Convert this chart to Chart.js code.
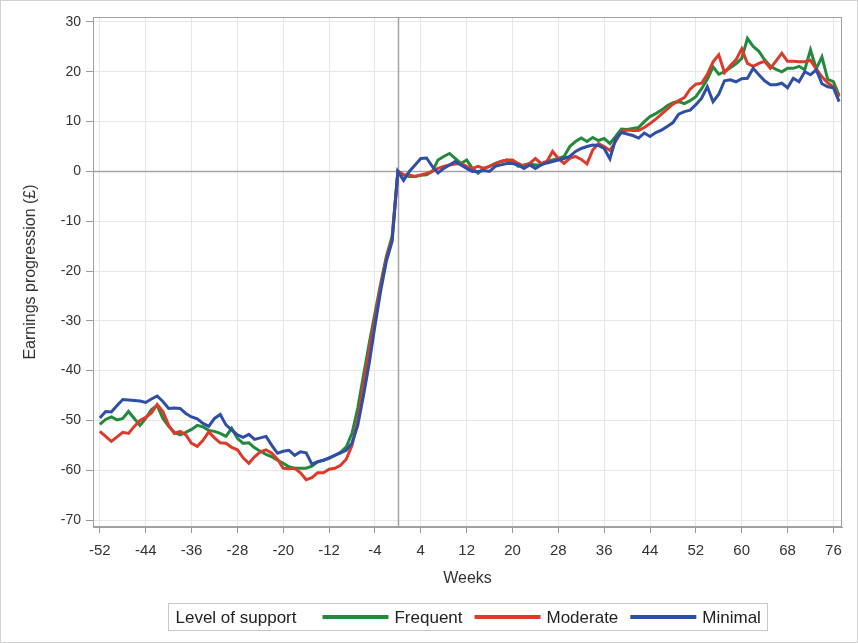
<!DOCTYPE html>
<html>
<head>
<meta charset="utf-8">
<title>Earnings progression by level of support</title>
<script src="https://cdn.jsdelivr.net/npm/chart.js@4.4.1/dist/chart.umd.min.js"></script>
<style>
  html, body { margin: 0; padding: 0; background: #fff; }
  canvas { display: block; }
</style>
</head>
<body>
<canvas id="earnings-chart" width="858" height="643"></canvas>
<script>
// weeks relative to start of support
var weeks = [
  -52,-51,-50,-49,-48,-47,-46,-45,-44,-43,
  -42,-41,-40,-39,-38,-37,-36,-35,-34,-33,
  -32,-31,-30,-29,-28,-27,-26,-25,-24,-23,
  -22,-21,-20,-19,-18,-17,-16,-15,-14,-13,
  -12,-11,-10,-9,-8,-7,-6,-5,-4,-3,
  -2,-1,0,1,2,3,4,5,6,7,
  8,9,10,11,12,13,14,15,16,17,
  18,19,20,21,22,23,24,25,26,27,
  28,29,30,31,32,33,34,35,36,37,
  38,39,40,41,42,43,44,45,46,47,
  48,49,50,51,52,53,54,55,56,57,
  58,59,60,61,62,63,64,65,66,67,
  68,69,70,71,72,73,74,75,76,77
];

var frequent = [
  -50.8,-49.8,-49.3,-49.9,-49.6,-48.2,-49.6,-51.0,-49.6,-47.8,
  -47.0,-49.6,-51.2,-52.4,-52.9,-52.4,-51.8,-51.0,-51.3,-52.0,
  -52.2,-52.6,-53.2,-51.6,-53.6,-54.6,-54.5,-55.5,-56.2,-56.8,
  -57.3,-58.0,-58.6,-59.3,-59.6,-59.6,-59.6,-59.2,-58.3,-58.0,
  -57.6,-57.0,-56.4,-55.3,-52.6,-47.5,-41.0,-34.5,-28.5,-22.5,
  -17.0,-13.0,0,-0.7,-1.0,-1.0,-0.8,-0.7,0,2.3,
  3.0,3.6,2.6,1.6,2.3,0.6,-0.4,0.6,1.0,1.6,
  2.0,2.3,2.0,1.0,1.3,1.6,1.3,1.3,2.0,2.3,
  2.6,3.0,5.0,6.0,6.7,6.0,6.8,6.2,6.6,5.6,
  7.0,8.5,8.4,8.6,8.8,10.0,11.0,11.6,12.3,13.2,
  13.8,14.0,13.6,14.2,15.0,16.6,18.5,21.0,19.5,20.0,
  20.8,21.6,22.7,26.7,25.1,24.1,22.4,21.1,20.5,20.0,
  20.7,20.7,21.1,20.4,24.4,20.6,23.0,18.5,18.0,15.2
];

var moderate = [
  -52.2,-53.2,-54.2,-53.3,-52.4,-52.6,-51.2,-50.0,-49.4,-48.5,
  -46.8,-48.2,-51.0,-52.6,-52.2,-52.9,-54.6,-55.2,-54.0,-52.3,
  -53.5,-54.5,-54.6,-55.4,-55.9,-57.5,-58.6,-57.3,-56.3,-55.9,
  -56.6,-57.8,-59.6,-59.7,-59.6,-60.5,-61.9,-61.5,-60.5,-60.5,
  -59.8,-59.6,-59.0,-57.8,-55.0,-50.0,-43.0,-36.0,-29.5,-23.0,
  -17.5,-13.5,0,-0.7,-0.7,-1.0,-0.7,-0.4,0,0.6,
  1.0,1.3,1.5,1.6,1.0,0.6,1.0,0.6,1.0,1.5,
  2.0,2.3,2.3,1.6,1.0,1.6,2.6,1.6,2.0,4.0,
  2.6,1.6,2.6,3.0,2.4,1.5,4.3,5.6,5.0,4.2,
  6.0,8.0,8.3,8.2,8.2,8.8,9.6,10.5,11.5,12.5,
  13.5,14.2,14.8,16.5,17.5,17.7,19.5,22.0,23.4,19.8,
  21.2,22.4,24.6,21.7,21.1,21.7,22.1,20.7,22.2,23.7,
  22.1,22.1,22.0,22.0,22.3,20.6,19.0,17.8,17.0,15.0
];

var minimal = [
  -49.5,-48.2,-48.3,-47.0,-45.8,-45.9,-46.0,-46.1,-46.4,-45.7,
  -45.1,-46.2,-47.6,-47.5,-47.6,-48.6,-49.3,-49.7,-50.6,-51.2,
  -49.6,-48.8,-50.9,-51.9,-52.9,-53.4,-52.8,-53.8,-53.5,-53.2,
  -55.0,-56.6,-56.2,-56.0,-57.0,-56.3,-56.5,-58.8,-58.3,-58.0,
  -57.5,-57.0,-56.5,-56.0,-54.5,-51.0,-45.0,-38.5,-31.0,-24.0,
  -18.0,-14.0,0,-1.8,0,1.3,2.6,2.7,1.0,-0.3,
  0.6,1.3,2.0,1.3,0.6,0,0,0.2,0,1.0,
  1.3,1.6,1.6,1.3,0.6,1.3,0.6,1.3,1.7,2.0,
  2.3,2.6,3.0,4.0,4.6,5.0,5.3,5.2,4.6,2.5,
  6.5,7.8,7.5,7.2,6.7,7.7,7.0,7.8,8.3,9.0,
  9.8,11.5,12.0,12.3,13.4,14.7,17.0,14.0,15.5,18.2,
  18.4,18.0,18.6,18.7,20.7,19.4,18.2,17.4,17.4,17.7,
  16.8,18.7,18.0,20.0,19.4,20.4,17.6,17.0,16.8,14.0
];

var weekTicks = [-52,-44,-36,-28,-20,-12,-4,4,12,20,28,36,44,52,60,68,76];
var earningsTicks = [-70,-60,-50,-40,-30,-20,-10,0,10,20,30];

var seriesNames = ['Frequent', 'Moderate', 'Minimal'];
var seriesColors = ['#23893c', '#dc3b2b', '#2f4ea6'];

function points(vals) {
  return weeks.map(function(w, i) { return { x: w, y: vals[i] }; });
}

var FONT = '"Liberation Sans", Arial, sans-serif';
Chart.defaults.font.family = FONT;

// zero lines, frame, outer border and the inline legend
var framePlugin = {
  id: 'frame',
  beforeDatasetsDraw: function(chart) {
    var ctx = chart.ctx, a = chart.chartArea;
    var x0 = Math.round(chart.scales.x.getPixelForValue(0)) + 0.5;
    var y0 = Math.round(chart.scales.y.getPixelForValue(0)) + 0.5;
    ctx.save();
    ctx.strokeStyle = '#a4a4a4';
    ctx.lineWidth = 1.5;
    ctx.beginPath();
    ctx.moveTo(a.left, y0); ctx.lineTo(a.right, y0);
    ctx.moveTo(x0, a.top); ctx.lineTo(x0, a.bottom);
    ctx.stroke();
    ctx.restore();
  },
  afterDraw: function(chart) {
    var ctx = chart.ctx, a = chart.chartArea;
    ctx.save();
    ctx.strokeStyle = '#a0a0a0';
    ctx.lineWidth = 1;
    ctx.strokeRect(Math.round(a.left) + 0.5, Math.round(a.top) + 0.5,
                   Math.round(a.right - a.left) - 1, Math.round(a.bottom - a.top) - 1);
    ctx.strokeStyle = '#d2d2d2';
    ctx.strokeRect(0.5, 0.5, chart.width - 1, chart.height - 1);

    // legend
    ctx.font = '17px ' + FONT;
    var title = 'Level of support';
    var padX = 7, gapTitle = 26, sampleW = 66, gapText = 6, gapItem = 12;
    var total = padX + ctx.measureText(title).width;
    chart.data.datasets.forEach(function(ds, i) {
      total += (i === 0 ? gapTitle : gapItem) + sampleW + gapText + ctx.measureText(ds.label).width;
    });
    total += padX;
    var cx = (a.left + a.right) / 2;
    var bx = Math.round(cx - total / 2) + 0.5, by = 603.5, bh = 27;
    ctx.strokeStyle = '#c8c8c8';
    ctx.strokeRect(bx, by, Math.round(total), bh);
    var my = by + bh / 2;
    ctx.fillStyle = '#222';
    ctx.textBaseline = 'middle';
    var x = bx + padX;
    ctx.fillText(title, x, my + 1);
    x += ctx.measureText(title).width;
    chart.data.datasets.forEach(function(ds, i) {
      x += (i === 0 ? gapTitle : gapItem);
      ctx.strokeStyle = ds.borderColor;
      ctx.lineWidth = 4;
      ctx.beginPath();
      ctx.moveTo(x, my); ctx.lineTo(x + sampleW, my);
      ctx.stroke();
      x += sampleW + gapText;
      ctx.fillText(ds.label, x, my + 1);
      x += ctx.measureText(ds.label).width;
    });
    ctx.restore();
  }
};

var ctxL = document.getElementById('earnings-chart').getContext('2d');
var earningsChart = new Chart(ctxL, {
  type: 'line',
  data: {
    datasets: [
      { label: seriesNames[0], data: points(frequent), borderColor: seriesColors[0], order: 3 },
      { label: seriesNames[1], data: points(moderate), borderColor: seriesColors[1], order: 2 },
      { label: seriesNames[2], data: points(minimal), borderColor: seriesColors[2], order: 1 }
    ]
  },
  options: {
    responsive: false,
    animation: false,
    layout: { padding: { top: 17, right: 16, bottom: 53, left: 0 } },
    elements: {
      point: { radius: 0 },
      line: { tension: 0, borderWidth: 3, fill: false }
    },
    plugins: {
      legend: { display: false },
      tooltip: { enabled: false }
    },
    scales: {
      x: {
        type: 'linear',
        min: -53.2,
        max: 77.5,
        afterBuildTicks: function(s) { s.ticks = weekTicks.map(function(v) { return { value: v }; }); },
        afterFit: function(s) { s.height = 63; },
        grid: { color: '#e6e6e6', tickColor: '#9a9a9a', tickLength: 6 },
        border: { color: '#a0a0a0' },
        ticks: { color: '#333', font: { size: 15 }, padding: 9, maxRotation: 0, autoSkip: false },
        title: { display: true, text: 'Weeks', color: '#333', font: { size: 16 }, padding: { top: 0, bottom: 2 } }
      },
      y: {
        min: -71.4,
        max: 31,
        afterBuildTicks: function(s) { s.ticks = earningsTicks.map(function(v) { return { value: v }; }); },
        afterFit: function(s) { s.width = 93; },
        grid: { color: '#e6e6e6', tickColor: '#9a9a9a', tickLength: 7 },
        border: { color: '#a0a0a0' },
        ticks: { color: '#333', font: { size: 14 }, padding: 5 },
        title: { display: true, text: 'Earnings progression (\u00a3)', color: '#333', font: { size: 16 }, padding: { top: 21, bottom: 0 } }
      }
    }
  },
  plugins: [framePlugin]
});
</script>
</body>
</html>
